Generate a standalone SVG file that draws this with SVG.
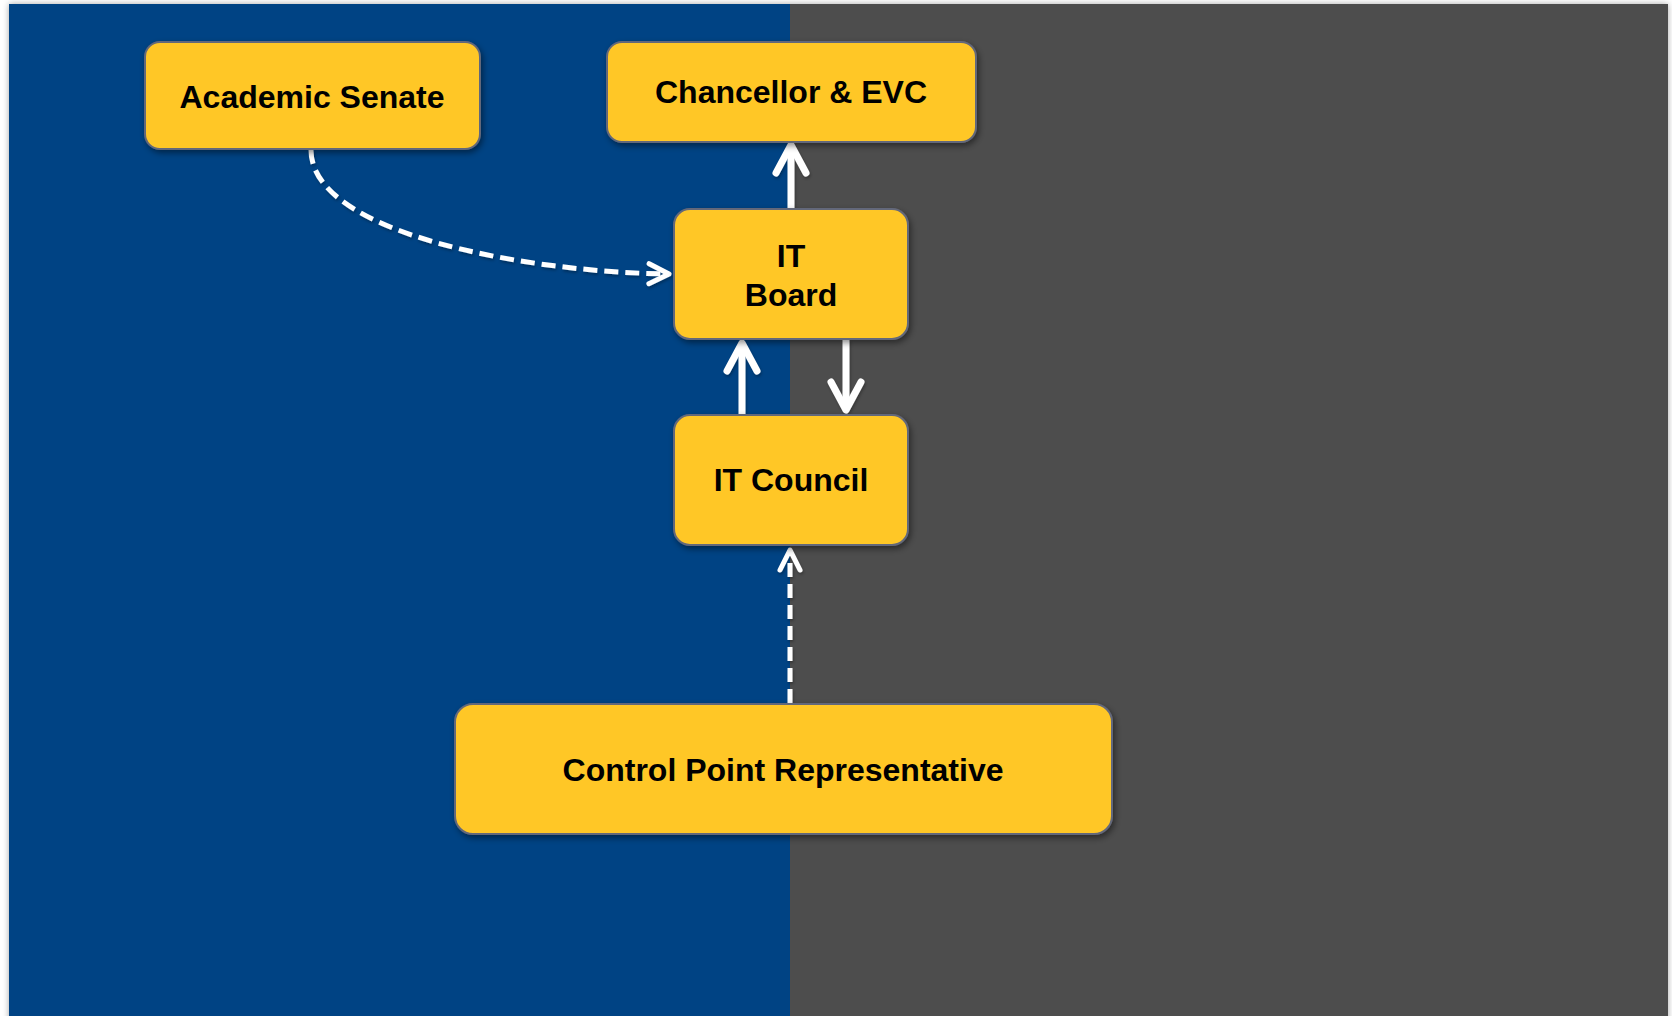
<svg xmlns="http://www.w3.org/2000/svg" width="1672" height="1016" viewBox="0 0 1672 1016">
  <defs>
    <style>
      .box { fill: #FFC726; stroke: #64687A; stroke-width: 2; filter: url(#shadow); }
      .label { font-family: "Liberation Sans", Arial, sans-serif; font-weight: bold; font-size: 32px; fill: #000; text-anchor: middle; }
      .solid { fill: none; stroke: #FFFFFF; stroke-width: 7; }
      .dashed { fill: none; stroke: #FFFFFF; stroke-width: 5; stroke-dasharray: 14 7; }
    </style>
    <filter id="shadow" x="-10%" y="-20%" width="130%" height="150%">
      <feDropShadow dx="2" dy="3" stdDeviation="3" flood-color="#000" flood-opacity="0.45"/>
    </filter>
    <filter id="lineShadow" x="-10%" y="-10%" width="120%" height="120%">
      <feDropShadow dx="1" dy="2" stdDeviation="1.5" flood-color="#000" flood-opacity="0.3"/>
    </filter>
    <filter id="pageShadow" x="-5%" y="-5%" width="110%" height="110%">
      <feDropShadow dx="0" dy="0" stdDeviation="3" flood-color="#000" flood-opacity="0.35"/>
    </filter>
    <marker id="headSolid" markerUnits="userSpaceOnUse" orient="auto" refX="0" refY="0" markerWidth="40" markerHeight="40" overflow="visible">
      <path d="M -28,-15 L 0,0 L -28,15" fill="none" stroke="#FFFFFF" stroke-width="7" stroke-linecap="round" stroke-linejoin="round"/>
    </marker>
    <marker id="headDashed" markerUnits="userSpaceOnUse" orient="auto" refX="0" refY="0" markerWidth="30" markerHeight="30" overflow="visible">
      <path d="M -20,-10 L 0,0 L -20,10" fill="none" stroke="#FFFFFF" stroke-width="5" stroke-linecap="round" stroke-linejoin="round"/>
    </marker>
  </defs>

  <!-- page -->
  <rect x="0" y="0" width="1672" height="1016" fill="#FFFFFF"/>
  <g filter="url(#pageShadow)">
    <rect x="9" y="4" width="1659" height="1030" fill="#4E4E4E"/>
  </g>
  <rect x="9" y="4" width="781" height="1030" fill="#004384"/>

  <!-- connectors -->
  <g id="connectors" filter="url(#lineShadow)">
    <path class="dashed" d="M 311,150 C 311,232 520,272 669,274" marker-end="url(#headDashed)"/>
    <path class="solid" d="M 791,209 L 791,145" marker-end="url(#headSolid)"/>
    <path class="solid" d="M 742,414 L 742,343" marker-end="url(#headSolid)"/>
    <path class="solid" d="M 846,339 L 846,410" marker-end="url(#headSolid)"/>
    <path class="dashed" d="M 790,703 L 790,550" marker-end="url(#headDashed)"/>
  </g>

  <!-- nodes -->
  <g id="academic-senate">
    <rect class="box" x="145" y="42" width="335" height="107" rx="15"/>
    <text class="label" x="312" y="108">Academic Senate</text>
  </g>
  <g id="chancellor-evc">
    <rect class="box" x="607" y="42" width="369" height="100" rx="15"/>
    <text class="label" x="791" y="103">Chancellor &amp; EVC</text>
  </g>
  <g id="it-board">
    <rect class="box" x="674" y="209" width="234" height="130" rx="16"/>
    <text class="label" x="791" y="267">IT</text>
    <text class="label" x="791" y="306">Board</text>
  </g>
  <g id="it-council">
    <rect class="box" x="674" y="415" width="234" height="130" rx="16"/>
    <text class="label" x="791" y="491">IT Council</text>
  </g>
  <g id="control-point-representative">
    <rect class="box" x="455" y="704" width="657" height="130" rx="18"/>
    <text class="label" x="783" y="781">Control Point Representative</text>
  </g>
</svg>
